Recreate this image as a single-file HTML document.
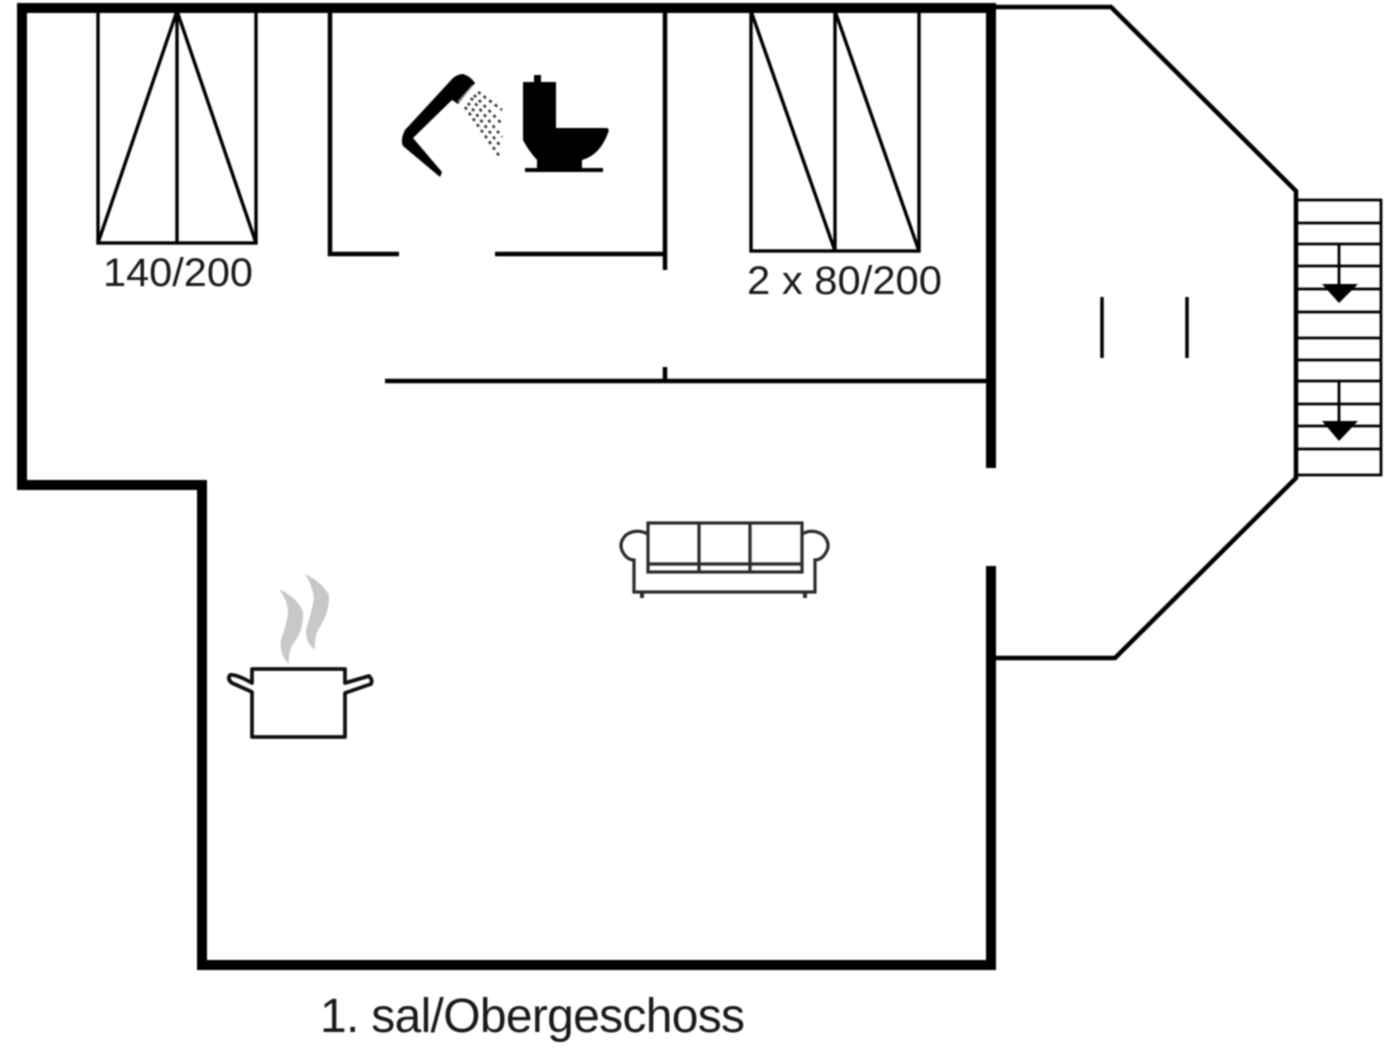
<!DOCTYPE html>
<html>
<head>
<meta charset="utf-8">
<style>
html,body{margin:0;padding:0;background:#fff;width:1400px;height:1050px;overflow:hidden}
svg{display:block;filter:blur(0.8px)}
text{font-family:"Liberation Sans",sans-serif;fill:#1a1a1a}
</style>
</head>
<body>
<svg width="1400" height="1050" viewBox="0 0 1400 1050" xmlns="http://www.w3.org/2000/svg">
<rect width="1400" height="1050" fill="#fff"/>
<g fill="none" stroke="#000" stroke-linejoin="miter">
  <!-- balcony -->
  <path d="M995 7H1111L1296 191V478L1115 658H995" stroke-width="4.5"/>
  <!-- outer walls -->
  <path d="M991 468V8H22V485H202V965H991V566" stroke-width="10"/>
  <!-- inner walls -->
  <path d="M330 10V254H399M495 254H665M665 10V270M665 367V381M385 381H990" stroke-width="4.5"/>
  <path d="M1102 297V358M1187 297V358" stroke-width="3.5"/>
  <!-- beds -->
  <g stroke-width="3.4">
    <rect x="98" y="11" width="158" height="232"/>
    <path d="M177 11V243M98 243L177 11L256 243"/>
    <rect x="751" y="11" width="168" height="240"/>
    <path d="M835 11V251M751 11L835 251M835 11L919 251"/>
  </g>
  <!-- stairs -->
  <g stroke-width="2.8">
    <path d="M1296 200H1381V475H1296"/>
    <path d="M1296 223H1381M1296 244H1381M1296 266H1381M1296 289H1381M1296 312H1381M1296 338H1381M1296 360H1381M1296 381H1381M1296 404H1381M1296 426H1381M1296 449H1381"/>
    <path d="M1339 244V290M1339 381V428"/>
  </g>
</g>
<path d="M1322 284H1358L1339 303ZM1322 421H1358L1339 441Z" fill="#000"/>

<!-- shower -->
<path d="M440 177L403 146Q400 140 405 130L453 78Q458 74 463 74Q470 76 475 83L458 104L452 100L413 138L442 172Z" fill="#000"/>
<path d="M458 102L473 85" fill="none" stroke="#999" stroke-width="1.5"/>
<path d="M478 92L502 110M474 95L502 124M471 98L502 137M468 103L501 147M465 107L500 157" fill="none" stroke="#333" stroke-width="2.6" stroke-dasharray="3 4"/>

<!-- toilet -->
<path d="M534 82V75H541V82H556V128H606Q610 128 608 133Q600 155 582 160V168H603V172H525V168H537V160Q528 150 523 140V82Z" fill="#000"/>

<!-- sofa -->
<g fill="none" stroke="#2a2a2a" stroke-width="3.2">
  <rect x="648" y="523" width="154" height="49"/>
  <path d="M699 523V572M750 523V572M648 564H802"/>
  <path d="M648 534Q636 528 626 535Q617 544 624 554Q628 560 634 560V592H815V560Q821 560 825 554Q832 544 823 535Q813 528 802 534"/>
  <path d="M642 592V598M805 592V598" stroke-width="4"/>
</g>

<!-- steam -->
<path d="M279 589Q298 598 303 612Q304 632 292 645Q288 655 289 664Q279 655 281 640Q288 620 288 610Q286 598 279 589Z" fill="#c8c8c8"/>
<path d="M305 574Q322 582 329 595Q330 612 318 630Q314 640 315 649Q306 645 306 630Q312 610 314 598Q312 585 305 574Z" fill="#c8c8c8"/>

<!-- pot -->
<path d="M252 683V669H345V683L369 676Q373 680 371 684L345 693V737H252V692L232 683Q227 679 230 675Q236 674 252 683Z" fill="none" stroke="#111" stroke-width="3.8" stroke-linejoin="round"/>

<!-- labels -->
<text x="103" y="286" font-size="40" textLength="150" lengthAdjust="spacingAndGlyphs">140/200</text>
<text x="747" y="294" font-size="40" textLength="195" lengthAdjust="spacingAndGlyphs">2 x 80/200</text>
<text x="320" y="1032" font-size="48" textLength="425" lengthAdjust="spacing">1. sal/Obergeschoss</text>
</svg>
</body>
</html>
